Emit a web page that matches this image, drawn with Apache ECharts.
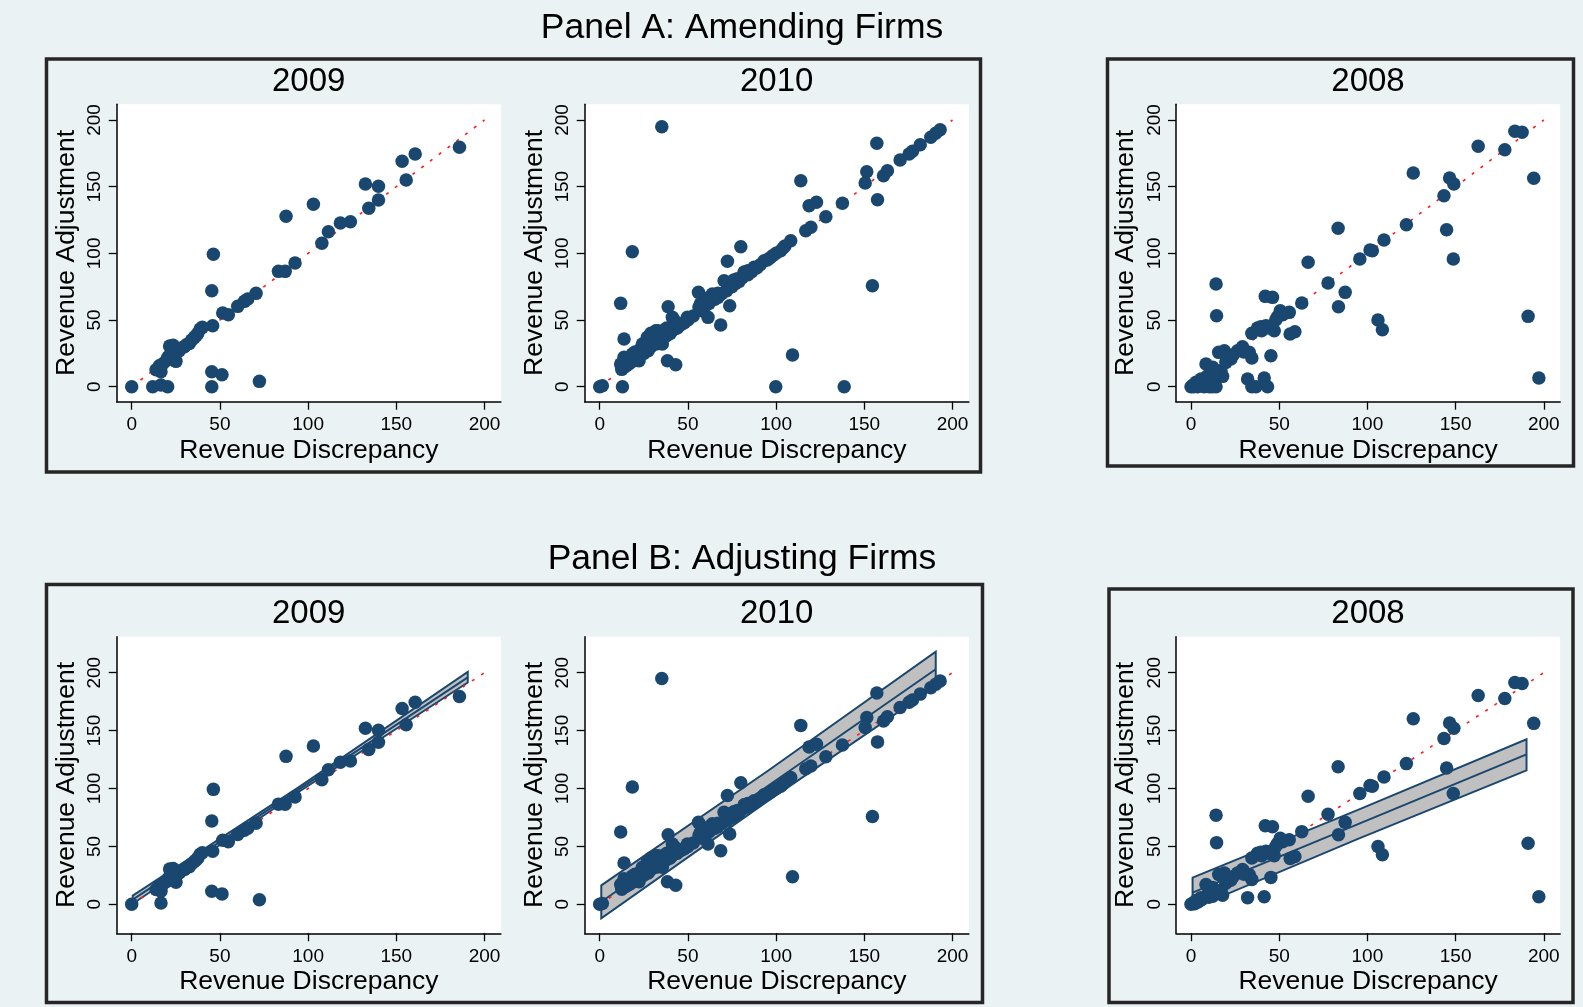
<!DOCTYPE html>
<html>
<head>
<meta charset="utf-8">
<script src="https://cdn.jsdelivr.net/npm/echarts@6/dist/echarts.min.js"></script>
<style>
html,body{margin:0;padding:0;background:#eaf2f3;}
#chart{width:1583px;height:1007px;}
</style>
</head>
<body>
<div id="chart"></div>
<script>
// ---------------- DATA ----------------
const xTicks = [0, 50, 100, 150, 200];
const yTicks = [0, 50, 100, 150, 200];
const refLine = [[0, 0], [200, 200]];

// points present in both panels (adjusting firms)
const adj2009 = [[0,0],[16.6,1.2],[45.4,11.2],[51.2,9],[72.4,4],[13.8,12.75],[16.6,11.2],[15.7,15.75],[19.5,19.5],[25.1,19],[22.3,30.25],[23.2,25.75],[27,27],[29.9,30],[32.7,32.5],[36.5,38.25],[38.8,43.25],[45.9,45.75],[45.4,72],[46.3,99.25],[51.6,55.25],[54.8,54],[60.1,60.25],[63.9,64],[65.8,65.75],[70.5,70],[83.2,86.5],[87,86.5],[92.6,92.75],[87.5,127.75],[103,136.75],[107.8,107.5],[111.5,116.25],[118.3,122.75],[124,123.75],[132.5,152],[134.4,133.75],[139.9,150.25],[139.9,140],[153.3,169],[155.6,155],[160.7,174.5],[185.8,179.5],[17.5,17],[20.5,22],[21.5,23.5],[24,26],[26,28.5],[28,29],[31,31.5],[34,35],[35.5,37],[37.5,40],[40,44.5],[24.5,21],[21.5,30.5],[23.5,31]];
// points with zero adjustment, only among amending firms
const zero2009 = [[11.9,0],[20.4,0],[45.4,0]];

const adj2010 = [[0,0],[1.5,0.75],[109.3,23.75],[154.6,75.75],[35.2,195],[18.5,101.25],[11.9,62.5],[13.8,35.75],[38.4,19.5],[43.1,16.5],[68.6,46.25],[73.7,60.75],[61.4,52],[56,70.75],[38.8,60],[72.4,94],[80,105],[70.5,79.5],[114,154.5],[118.7,135.75],[122.9,138.25],[128.2,127.5],[137.6,137.5],[116.8,117],[119.7,119.5],[108.3,109.5],[157.1,182.5],[151.4,161.25],[150.5,152.75],[157.5,140.25],[160.9,158.25],[163.1,162],[170.3,170],[175.4,174.5],[177.3,176.5],[181.7,181.5],[187.7,187],[190.5,190],[193,192.75],[11.9,17],[13.8,22],[18.5,24.5],[22.3,19.5],[24.2,32],[27,37],[31.8,42],[35.5,32],[41.2,52],[49.7,52],[56.3,59.5],[63.9,69.5],[80.9,82],[81.9,85.75],[87.5,89.5],[93.2,94.5],[98,98.25],[102.6,102],[12.5,13],[13.5,14.5],[15,15.5],[16.5,17],[18,18.5],[20,20],[22,22],[25,25],[27.5,27],[29,30],[32,32],[34,35],[36,36],[38,38.5],[40,40],[42,43],[44,44],[46,46.5],[48,48],[50,50],[53,53],[58,57],[60,61],[62,62.5],[65,65.5],[67,67],[69,69.5],[72,72],[75,75],[77,77.5],[79,79],[84,84],[86,86],[89,89],[91,91.5],[95,95],[96.5,96.5],[100,100],[104,104],[105,105.5],[26,31],[30,37],[33,42],[40,43],[42,50],[44,48],[20,26],[16,21],[23,28],[29,40],[31,38],[36,42],[38,44],[34,36],[57,62],[60,64],[62,67],[65,68],[67,70],[73,78],[76,80],[78,81],[82,86],[84,87]];
const zero2010 = [[12.9,0],[99.8,0],[138.6,0]];

const adj2008 = [[197.2,6.5],[191.1,52.75],[194.3,156.25],[183.6,191.5],[187.7,190.75],[177.9,177.75],[162.8,180.25],[126,160.25],[146.6,156.5],[149,152],[143.4,143.25],[144.9,117.75],[148.7,95.75],[122.1,121.5],[109.4,110],[102.8,102],[101.5,102.5],[95.7,95.75],[83.4,118.75],[77.7,77.75],[87.4,70.75],[83.6,60],[106,50],[108.5,42.75],[66.4,93.25],[62.8,62.75],[56.2,39.5],[58.9,41.25],[50.6,57],[49,52.5],[55.7,55.75],[42.1,67.75],[46.2,67],[45.3,23.25],[47.2,42],[42.5,45.75],[39.6,45],[37.7,44],[34.5,40],[14.2,77],[14.5,53.25],[32.1,5.75],[41.5,6.5],[29.2,30],[33,25.75],[34.5,21.5],[26.4,27],[22.6,20.75],[18.9,27],[15.7,25.75],[17.9,7.75],[8.5,17],[12.3,14.5],[17,12],[2.8,3.25],[5.7,5.75],[9.4,8.25],[12.3,7],[19.8,18.25],[0,0],[1,1],[2,0.5],[4,2],[6,4],[10,6],[13,9],[15,11],[20,22],[24,24],[30,26],[40,42],[44,44],[52,54],[48,50]];
const zero2008 = [[34.5,0],[36.8,0],[43.4,0],[14.2,0],[10.4,0],[7.5,0],[3.8,0],[12,0],[1.5,0]];

// linear fit and confidence band (adjusting firms)
const fit2009 = [[0.6, 4], [190.5, 196]];
const band2009X = [0.6, 95, 190.5];
const band2009Lo = [0.5, 97.4, 191.5];
const band2009Hi = [7.5, 101.4, 200.6];

const fit2010 = [[0.9, 2.2], [190.5, 203]];
const band2010X = [0.9, 95, 190.5];
const band2010Lo = [-12.1, 88.9, 188];
const band2010Hi = [16.4, 114.9, 218.2];

const fit2008 = [[0.9, 10.1], [190.2, 129.5]];
const band2008X = [0.9, 95, 190.2];
const band2008Lo = [-3.7, 56.7, 115.7];
const band2008Hi = [23, 81.7, 142.5];

// ---------------- LAYOUT ----------------
const FONT = '"Liberation Sans", Arial, Helvetica, sans-serif';
const NAVY = '#1a476f';
const colX0 = [131.7, 599.7, 1191];
const xScale = 1.764;
const xMin = -8.5, xMax = 209.3;
const rows = [
  {y0: 386.7, scale: 1.3335, min: -11.25, max: 211.8},
  {y0: 904.3, scale: 1.158, min: -25, max: 231.1}
];

const grids = [], xAxes = [], yAxes = [], series = [];
const panels = [
  {row:0, col:0, pts: adj2009.concat(zero2009)},
  {row:0, col:1, pts: adj2010.concat(zero2010)},
  {row:0, col:2, pts: adj2008.concat(zero2008)},
  {row:1, col:0, pts: adj2009, fit: fit2009, bx: band2009X, lo: band2009Lo, hi: band2009Hi},
  {row:1, col:1, pts: adj2010, fit: fit2010, bx: band2010X, lo: band2010Lo, hi: band2010Hi},
  {row:1, col:2, pts: adj2008, fit: fit2008, bx: band2008X, lo: band2008Lo, hi: band2008Hi}
];

panels.forEach((p, i) => {
  const r = rows[p.row];
  const left = colX0[p.col] + xMin * xScale;
  const width = (xMax - xMin) * xScale;
  const top = r.y0 - r.max * r.scale;
  const height = (r.max - r.min) * r.scale;
  grids.push({left, top, width, height, show: true, backgroundColor: '#ffffff', borderWidth: 0, containLabel: false});
  xAxes.push({
    type: 'value', gridIndex: i, min: xMin, max: xMax,
    name: 'Revenue Discrepancy', nameLocation: 'middle', nameGap: 35,
    nameTextStyle: {fontFamily: FONT, fontSize: 26.5, color: '#000'},
    axisLine: {show: true, onZero: false, lineStyle: {color: '#000', width: 1.5}},
    axisTick: {show: true, length: 8, customValues: xTicks, lineStyle: {color: '#000', width: 1.3}},
    axisLabel: {customValues: xTicks, fontFamily: FONT, fontSize: 19, color: '#000', margin: 14},
    splitLine: {show: false}
  });
  yAxes.push({
    type: 'value', gridIndex: i, min: r.min, max: r.max,
    name: 'Revenue Adjustment', nameLocation: 'middle', nameGap: 37, nameRotate: 90,
    nameTextStyle: {fontFamily: FONT, fontSize: 26.5, color: '#000'},
    axisLine: {show: true, onZero: false, lineStyle: {color: '#000', width: 1.5}},
    axisTick: {show: true, length: 8, customValues: yTicks, lineStyle: {color: '#000', width: 1.3}},
    axisLabel: {customValues: yTicks, rotate: 90, fontFamily: FONT, fontSize: 19, color: '#000', margin: 12},
    splitLine: {show: false}
  });
  if (p.fit) {
    const bx = p.bx, lo = p.lo, hi = p.hi;
    series.push({
      type: 'custom', xAxisIndex: i, yAxisIndex: i, z: 1, silent: true,
      data: [[bx[0], lo[0]]],
      renderItem: function (params, api) {
        const up = bx.map((x, k) => api.coord([x, hi[k]]));
        const dn = bx.map((x, k) => api.coord([x, lo[k]])).reverse();
        return {type: 'polygon', shape: {points: up.concat(dn)},
          style: {fill: '#c0c0c0', stroke: NAVY, lineWidth: 2}};
      }
    });
    series.push({
      type: 'line', xAxisIndex: i, yAxisIndex: i, z: 2, data: p.fit, symbol: 'none', silent: true,
      lineStyle: {color: NAVY, width: 2}
    });
  }
  series.push({
    type: 'line', xAxisIndex: i, yAxisIndex: i, z: 3, data: refLine, symbol: 'none', silent: true,
    lineStyle: {color: '#ff1a1a', width: 1.6, type: [3, 8]}
  });
  series.push({
    type: 'scatter', xAxisIndex: i, yAxisIndex: i, z: 4, data: p.pts, symbolSize: 13.5, silent: true,
    itemStyle: {color: NAVY, opacity: 1}
  });
});

// titles and frames
const texts = [
  {t: 'Panel A: Amending Firms', x: 742, y: 28, s: 35.5},
  {t: 'Panel B: Adjusting Firms', x: 742, y: 559, s: 35.5},
  {t: '2009', x: colX0[0] + 177, y: 81.5, s: 33},
  {t: '2010', x: colX0[1] + 177, y: 81.5, s: 33},
  {t: '2008', x: colX0[2] + 177, y: 81.5, s: 33},
  {t: '2009', x: colX0[0] + 177, y: 613.5, s: 33},
  {t: '2010', x: colX0[1] + 177, y: 613.5, s: 33},
  {t: '2008', x: colX0[2] + 177, y: 613.5, s: 33}
];
const frames = [
  {x: 46.5, y: 59, w: 934, h: 413},
  {x: 1107.5, y: 59, w: 466, h: 407},
  {x: 46.5, y: 584.5, w: 936, h: 418},
  {x: 1109, y: 589, w: 464, h: 413.5}
];
const graphics = [];
frames.forEach(f => graphics.push({type: 'rect', silent: true, z: 0,
  shape: {x: f.x, y: f.y, width: f.w, height: f.h},
  style: {fill: 'none', stroke: '#262626', lineWidth: 3.5}}));
texts.forEach(o => graphics.push({type: 'text', silent: true, x: o.x, y: o.y,
  style: {text: o.t, fontFamily: FONT, fontSize: o.s, fill: '#000', align: 'center', verticalAlign: 'middle'}}));

const chart = echarts.init(document.getElementById('chart'), null, {renderer: 'canvas'});
chart.setOption({
  backgroundColor: '#eaf2f3',
  animation: false,
  grid: grids, xAxis: xAxes, yAxis: yAxes, series: series,
  graphic: graphics
});
</script>
</body>
</html>
